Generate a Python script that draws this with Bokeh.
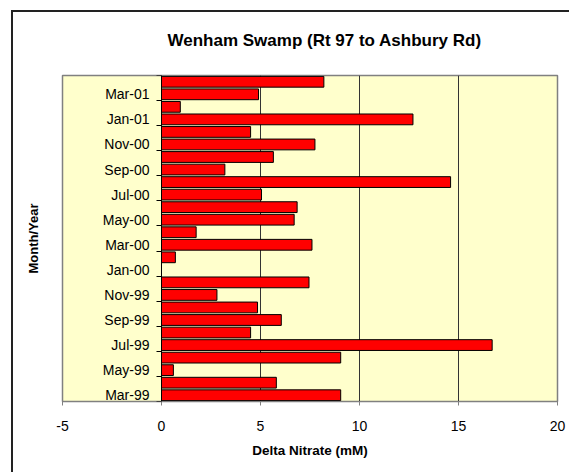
import numpy as np
from bokeh.plotting import figure
from bokeh.layouts import column
from bokeh.models import FixedTicker, Title, ColumnDataSource
from bokeh.embed import file_html
from bokeh.resources import INLINE

months = ["Mar-99", "Apr-99", "May-99", "Jun-99", "Jul-99", "Aug-99", "Sep-99", "Oct-99",
          "Nov-99", "Dec-99", "Jan-00", "Feb-00", "Mar-00", "Apr-00", "May-00", "Jun-00",
          "Jul-00", "Aug-00", "Sep-00", "Oct-00", "Nov-00", "Dec-00", "Jan-01", "Feb-01",
          "Mar-01", "Apr-01"]
delta_nitrate = [9.05, 5.8, 0.6, 9.05, 16.7, 4.5, 6.05, 4.85,
                 2.8, 7.45, np.nan, 0.7, 7.6, 1.75, 6.7, 6.85,
                 5.05, 14.6, 3.2, 5.65, 7.75, 4.5, 12.7, 0.95,
                 4.9, 8.2]
x_ticks = [-5, 0, 5, 10, 15, 20]
x_tick_labels = ["-5", "0", "5", "10", "15", "20"]

idx = list(range(len(months)))
src = ColumnDataSource(dict(y=idx, right=delta_nitrate))

W, H = 569, 472
p = figure(width=W, height=H, output_backend="svg", toolbar_location=None,
           x_range=(-5, 20), y_range=(-0.5, len(months) - 0.5),
           min_border_left=62, min_border_right=12, min_border_top=75, min_border_bottom=71)

p.background_fill_color = "#FFFFCC"
p.border_fill_color = None
p.outline_line_color = "#808080"
p.outline_line_width = 1.5

p.hbar(y="y", left=0, right="right", height=0.86, source=src,
       fill_color="#FF0000", line_color="black", line_width=1)

font = "Liberation Sans"
p.title.text = "Wenham Swamp (Rt 97 to Ashbury Rd)"
p.title.text_font = font
p.title.text_font_size = "17px"
p.title.text_font_style = "bold"
p.title.text_color = "black"
p.title.align = "left"
p.title.offset = 105
p.title.standoff = 51

# x axis
xa = p.xaxis[0]
xa.ticker = FixedTicker(ticks=x_ticks)
xa.major_label_overrides = {t: s for t, s in zip(x_ticks, x_tick_labels)}
xa.axis_label = "Delta Nitrate (mM)"
xa.axis_label_text_font = font
xa.axis_label_text_font_size = "13.5px"
xa.axis_label_text_font_style = "bold"
xa.axis_label_text_color = "black"
xa.axis_label_standoff = 9
xa.major_label_text_font = font
xa.major_label_text_font_size = "14px"
xa.major_label_text_color = "black"
xa.major_label_standoff = 15
xa.axis_line_color = "#808080"
xa.major_tick_line_color = "#808080"
xa.major_tick_out = 4
xa.major_tick_in = 0
xa.minor_tick_line_color = None

# y axis at x = 0
ya = p.yaxis[0]
lab_idx = idx[::2]
ya.ticker = FixedTicker(ticks=lab_idx, minor_ticks=[i - 0.5 for i in lab_idx] + [len(months) - 0.5])
ya.major_label_overrides = {i: months[i] for i in lab_idx}
ya.fixed_location = 0
ya.major_label_text_font = font
ya.major_label_text_font_size = "14px"
ya.major_label_text_color = "black"
ya.major_label_standoff = 6
ya.major_tick_line_color = None
ya.minor_tick_line_color = "black"
ya.minor_tick_out = 5
ya.minor_tick_in = 0
ya.axis_line_color = "black"
ya.axis_label = None

p.add_layout(Title(text="Month/Year", text_font=font, text_font_size="13px",
                   text_font_style="bold", text_color="black", align="center", standoff=44), "left")

p.xgrid.ticker = FixedTicker(ticks=x_ticks)
p.xgrid.grid_line_color = "#333333"
p.xgrid.grid_line_width = 1
p.ygrid.grid_line_color = None

# chart-area frame: only its left and top edges fall inside the picture
layout = column(p, width=W, height=H, styles={
    "background-color": "white",
    "background-image": "linear-gradient(#222222, #222222), linear-gradient(#222222, #222222)",
    "background-position": "11px 10px, 11px 10px",
    "background-size": "2px 100%, 100% 2px",
    "background-repeat": "no-repeat",
})

open("out.html", "w").write(file_html(layout, INLINE))
